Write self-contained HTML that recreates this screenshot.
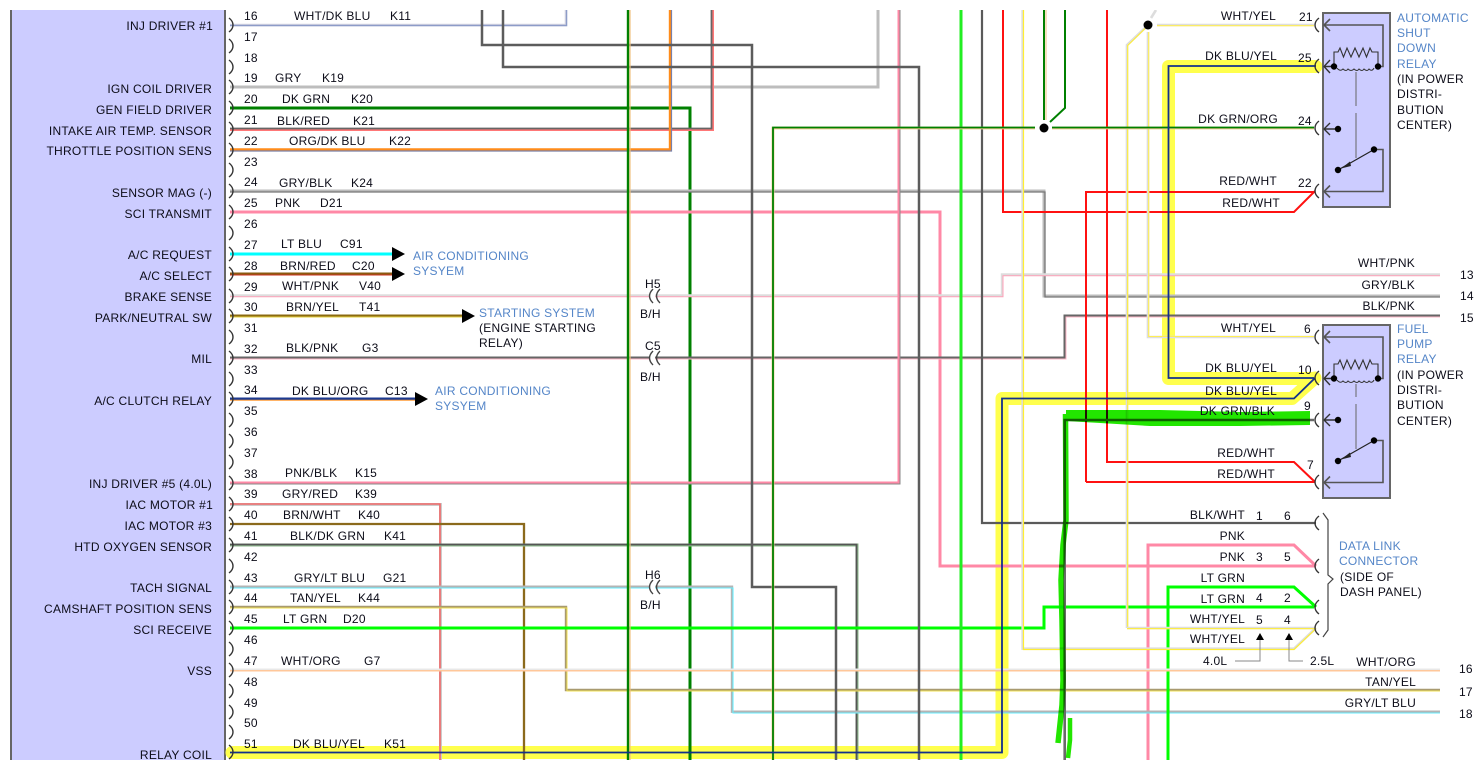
<!DOCTYPE html>
<html><head><meta charset="utf-8"><title>Wiring diagram</title>
<style>
html,body{margin:0;padding:0;background:#fff;width:1482px;height:768px;overflow:hidden}
svg{display:block}
text{font-family:"Liberation Sans",sans-serif;font-size:12px;letter-spacing:.25px;fill:#0c0c18}
.e{text-anchor:end}
.b text,text.b{fill:#5586c8}
.w path{fill:none;stroke-linejoin:miter}
</style></head><body>
<svg width="1482" height="768" viewBox="0 0 1482 768" xmlns="http://www.w3.org/2000/svg">
<defs>
<path id="p" d="M229 -7q4 3 4 7t-4 7" fill="none" stroke="#333" stroke-width="1.400"/>
<path id="q" d="M1319 -7q-4 3 -4 7t4 7" fill="none" stroke="#333" stroke-width="1.400"/>
<path id="cc" d="M653 -7Q646 0 653 7M660 -7Q653 0 660 7" fill="none" stroke="#444" stroke-width="1.400"/>
<g id="coil" fill="none">
<path d="M1330 19L1324 25 1330 31M1324 25H1383V66.500H1378" stroke="#555" stroke-width="1.600"/>
<path d="M1330 60L1324 66.500 1330 73M1324 66.500H1334" stroke="#333" stroke-width="1.400"/>
<path d="M1334 66V52H1338L1340 48 1343.500 57 1347 48 1351 57 1355 48 1359 57 1363 48 1366.500 57 1370 48 1372 52H1378V66" stroke="#333" stroke-width="1.100"/>
<path d="M1337 68q3 4 6 1q3 3 5 0q3 3 6 0q3 3 5 0q3 3 5 0q3 3 5 0q3 3 5 -1" stroke="#333" stroke-width="1"/>
<circle cx="1334" cy="66.500" r="3.200" fill="#000"/><circle cx="1378" cy="66.500" r="3.200" fill="#000"/>
</g>
<g id="sw" fill="none">
<path d="M1330 123L1324 129 1330 135M1324 129H1338" stroke="#333" stroke-width="1.400"/>
<path d="M1374 149.500H1383V191.500H1324M1330 185.500L1324 191.500 1330 197.500" stroke="#555" stroke-width="1.600"/>
<path d="M1338 170L1374 149.500" stroke="#222" stroke-width="1.200"/>
<circle cx="1338" cy="129" r="3.200" fill="#000"/><circle cx="1338" cy="170" r="3.200" fill="#000"/><circle cx="1374" cy="149.500" r="3.200" fill="#000"/>
<path d="M1341 168.500L1350 161.500 1351 166Z" fill="#222"/>
</g>
</defs>
<rect width="1482" height="768" fill="#fff"/>
<rect x="10" y="10" width="215" height="750" fill="#ccccff"/>
<path d="M11 10V760M225 10V760" stroke="#666" stroke-width="2"/>

<!-- yellow highlights -->
<g fill="none" stroke="#ffff4d" stroke-width="13" stroke-linejoin="round" stroke-linecap="round">
<path d="M232 752.500H1002V398.500H1292L1315 378"/>
<path d="M1316 66.500H1168.500V378.500H1314"/>
</g>

<!-- wires -->
<g class="w" stroke-width="3">
<path d="M230 25H566V10" stroke="#d8d8e4" stroke-width="2.600"/><path d="M230 25.500H566.500V10" stroke="#8d9cc8" stroke-width="1.400"/>
<path d="M230 87H878V10" stroke="#bdbdbd"/>
<path d="M230 108H690V760" stroke="#008000"/>
<path d="M230 129.500H712.500V10" stroke="#f77"/><path d="M230 128.500H711.500V10" stroke="#666" stroke-width="1.800"/>
<path d="M230 149.500H670V10" stroke="#ff8c1a" stroke-width="2.400"/><path d="M230 151H671.500V10" stroke="#7a80a8" stroke-width="1.200"/>
<path d="M230 191H1044V296H1440" stroke="#bbb"/><path d="M230 192H1045V297H1440" stroke="#777" stroke-width="1.300"/>
<path d="M230 212H940V566H1296L1316 566" stroke="#ff88a6"/>
<path d="M1148 760V545H1294L1316 566" stroke="#ff88a6"/>
<path d="M230 254H392" stroke="#00ffff"/>
<path d="M230 274H392" stroke="#8a5a10"/><path d="M230 275H392" stroke="#cc3322" stroke-width="1"/>
<path d="M230 295.500H1002V274.500H1440" stroke="#ddd" stroke-width="2.400"/><path d="M230 296.700H1003V275.700H1440" stroke="#ffa0b8" stroke-width="1"/>
<path d="M230 316H462" stroke="#8b6a10"/><path d="M230 317H462" stroke="#e5d040" stroke-width="1"/>
<path d="M230 358H1065V316H1440" stroke="#ffb8c8"/><path d="M230 357.500H1064.500V315.500H1440" stroke="#666" stroke-width="2"/>
<path d="M230 399H415" stroke="#1c3a90"/><path d="M230 400.300H415" stroke="#ff9a33" stroke-width="1"/>
<path d="M230 483H899V10" stroke="#ff88a6"/><path d="M230 484H900V10" stroke="#888" stroke-width="1"/>
<path d="M230 504.500H440.500V760" stroke="#ccc"/><path d="M230 504H440V760" stroke="#f06868" stroke-width="1.600"/>
<path d="M230 524H524V760" stroke="#8b6a1c" stroke-width="2.300"/>
<path d="M230 545H857V760" stroke="#8db98d"/><path d="M230 544.500H856.500V760" stroke="#555" stroke-width="1.800"/>
<path d="M230 586.700H732V711.700H1440" stroke="#b4b4b4" stroke-width="2.400"/><path d="M230 588H733V713H1440" stroke="#66eeff" stroke-width="1.100"/>
<path d="M230 607H566V690H1440" stroke="#a89a70" stroke-width="2.400"/><path d="M230 608H567V691H1440" stroke="#f0e050" stroke-width="1"/>
<path d="M230 628H1044V607H1314" stroke="#00ff00"/>
<path d="M1168 760V587H1294L1316 607" stroke="#00ff00"/>
<path d="M230 670H1440" stroke="#e8e8e8"/><path d="M230 670.700H1440" stroke="#ffc79a" stroke-width="1.500"/>
<path d="M482 10V45H752V587H836V760" stroke="#5c5c5c" stroke-width="2.500"/>
<path d="M503 10V67H919V760" stroke="#5c5c5c" stroke-width="2.500"/>
<path d="M628 10V760" stroke="#008000" stroke-width="2.400"/><path d="M630 10V760" stroke="#f0c080" stroke-width="1.200"/>
<path d="M961 10V760" stroke="#22ee22"/>
<path d="M982 10V523H1316" stroke="#5a5a5a" stroke-width="2.200"/>
<path d="M1003 10V212H1294L1315 191" stroke="#f11" stroke-width="2"/>
<path d="M1107 10V462H1294L1315 482" stroke="#f11" stroke-width="2"/>
<path d="M1086 482H1315M1086 482V192H1315" stroke="#f11" stroke-width="2"/>
<path d="M1022.700 10V648.700H1294L1316 628" stroke="#ddd" stroke-width="2.600"/><path d="M1023.500 10V649.500H1294L1316 628.500" stroke="#ffee33" stroke-width="1.200"/>
<path d="M1127 628V45L1145 28" stroke="#ddd" stroke-width="2.600"/><path d="M1127.700 628V45.500L1145 28.500" stroke="#ffee33" stroke-width="1.100"/>
<path d="M1127 628H1316" stroke="#ddd" stroke-width="2.600"/><path d="M1127 628.700H1316" stroke="#ffee33" stroke-width="1.100"/>
<path d="M1148 32V337H1314M1157 25H1314" stroke="#ddd" stroke-width="2.600"/><path d="M1148.700 32V336.500H1314M1157 25.700H1314" stroke="#ffee55" stroke-width="1.100"/>
<path d="M1151 18L1156 10" stroke="#ddd" stroke-width="2.600"/>
<path d="M773 760V128H1035M1052 128H1314" stroke="#f2c98c" stroke-width="2.800"/><path d="M773 760V127.500H1035M1052 127.500H1314" stroke="#008000" stroke-width="1.800"/>
<path d="M1044 10V120" stroke="#008000" stroke-width="2"/><path d="M1046 10V120" stroke="#f0c080" stroke-width="1"/>
<path d="M1065 10V108L1050 122" stroke="#008000" stroke-width="2"/>
</g>
<!-- dk blu / yel lines -->
<g fill="none" stroke="#12308c" stroke-width="1.800">
<path d="M230 752.500H1002V398.500H1294L1315 378"/>
<path d="M1316 66H1168.500V378H1314"/>
</g>
<!-- dk grn/blk wire -->
<path d="M1064.700 760V420H1314" fill="none" stroke="#6a6a6a" stroke-width="2.600"/>
<!-- green hand highlight -->
<g style="mix-blend-mode:multiply">
<path d="M1066 410L1160 410 1240 412 1310 411V425L1240 426 1150 426 1100 423 1066 421Z" fill="#22e600"/>
<path d="M1065.500 414L1066 520 1063 545 1061 580 1062 620 1063 680 1062 705 1058 743" fill="none" stroke="#22e600" stroke-width="5.500"/>
<path d="M1070 718L1070 740 1068 758" fill="none" stroke="#22e600" stroke-width="4.500"/>
</g>

<!-- junction dots -->
<circle cx="1044" cy="128" r="4.500" fill="#000"/><circle cx="1148" cy="25" r="4.500" fill="#000"/>
<circle cx="1044" cy="128" r="8" fill="none" stroke="#fff" stroke-width="0"/>
<!-- arrows -->
<path d="M392 247L405 254 392 261ZM392 267L405 274 392 281ZM462 309L475 316 462 323ZM415 392L428 399 415 406Z" fill="#000"/>
<path d="M1260 633L1264 640H1256ZM1289 633L1293 640H1285Z" fill="#000"/>
<path d="M1235 661H1260V640M1289 640V661H1303" fill="none" stroke="#888" stroke-width="1"/>

<!-- pins left -->
<use href="#p" y="25"/><use href="#p" y="46"/><use href="#p" y="67"/><use href="#p" y="87"/><use href="#p" y="108"/><use href="#p" y="129"/><use href="#p" y="150"/><use href="#p" y="170"/><use href="#p" y="191"/><use href="#p" y="212"/><use href="#p" y="233"/><use href="#p" y="254"/><use href="#p" y="274"/><use href="#p" y="296"/><use href="#p" y="316"/><use href="#p" y="337"/><use href="#p" y="358"/><use href="#p" y="379"/><use href="#p" y="399"/><use href="#p" y="420"/><use href="#p" y="441"/><use href="#p" y="462"/><use href="#p" y="483"/><use href="#p" y="504"/><use href="#p" y="524"/><use href="#p" y="545"/><use href="#p" y="566"/><use href="#p" y="587"/><use href="#p" y="607"/><use href="#p" y="628"/><use href="#p" y="649"/><use href="#p" y="670"/><use href="#p" y="691"/><use href="#p" y="712"/><use href="#p" y="732"/><use href="#p" y="752"/>
<!-- pins right -->
<use href="#q" y="25"/><use href="#q" y="66"/><use href="#q" y="128"/><use href="#q" y="191"/><use href="#q" y="337"/><use href="#q" y="378"/><use href="#q" y="420"/><use href="#q" y="482"/><use href="#q" y="523"/><use href="#q" y="566"/><use href="#q" y="607"/><use href="#q" y="628"/>
<!-- inline connectors -->
<rect x="650" y="293" width="5" height="6" fill="#fff"/>
<rect x="650" y="355" width="5" height="6" fill="#fff"/>
<rect x="650" y="584" width="5" height="6" fill="#fff"/>
<use href="#cc" y="296"/><use href="#cc" y="358"/><use href="#cc" y="587"/>

<!-- relays -->
<rect x="1323" y="13" width="67" height="194" fill="#ccccff" stroke="#666" stroke-width="2"/>
<rect x="1323" y="325" width="67" height="173" fill="#ccccff" stroke="#666" stroke-width="2"/>
<use href="#coil"/><use href="#sw"/>
<use href="#coil" y="312"/><use href="#sw" y="291"/>
<path d="M1356 72V106M1356 113V158M1356 384V397M1356 404V449" stroke="#666" stroke-width="1" fill="none"/>
<!-- brace -->
<path d="M1323 513L1328 520V575L1333 579 1328 584V630L1323 637" fill="none" stroke="#444" stroke-width="1.200"/>

<!-- left labels -->
<text class="e" x="213" y="30">INJ DRIVER #1</text>
<text class="e" x="212" y="93">IGN COIL DRIVER</text>
<text class="e" x="212" y="114">GEN FIELD DRIVER</text>
<text class="e" x="212" y="135">INTAKE AIR TEMP. SENSOR</text>
<text class="e" x="212" y="155">THROTTLE POSITION SENS</text>
<text class="e" x="212" y="197">SENSOR MAG (-)</text>
<text class="e" x="212" y="218">SCI TRANSMIT</text>
<text class="e" x="212" y="259">A/C REQUEST</text>
<text class="e" x="212" y="280">A/C SELECT</text>
<text class="e" x="212" y="301">BRAKE SENSE</text>
<text class="e" x="212" y="322">PARK/NEUTRAL SW</text>
<text class="e" x="212" y="363">MIL</text>
<text class="e" x="212" y="405">A/C CLUTCH RELAY</text>
<text class="e" x="212" y="488">INJ DRIVER #5 (4.0L)</text>
<text class="e" x="213" y="509">IAC MOTOR #1</text>
<text class="e" x="212" y="530">IAC MOTOR #3</text>
<text class="e" x="212" y="551">HTD OXYGEN SENSOR</text>
<text class="e" x="212" y="592">TACH SIGNAL</text>
<text class="e" x="212" y="613">CAMSHAFT POSITION SENS</text>
<text class="e" x="212" y="634">SCI RECEIVE</text>
<text class="e" x="212" y="675">VSS</text>
<text class="e" x="212" y="759">RELAY COIL</text>
<!-- pin numbers -->
<text x="244" y="20">16</text><text x="244" y="41">17</text><text x="244" y="62">18</text><text x="244" y="82">19</text><text x="244" y="103">20</text><text x="244" y="124">21</text><text x="244" y="145">22</text><text x="244" y="166">23</text><text x="244" y="186">24</text><text x="244" y="207">25</text><text x="244" y="228">26</text><text x="244" y="249">27</text><text x="244" y="270">28</text><text x="244" y="291">29</text><text x="244" y="311">30</text><text x="244" y="332">31</text><text x="244" y="353">32</text><text x="244" y="374">33</text><text x="244" y="394">34</text><text x="244" y="415">35</text><text x="244" y="436">36</text><text x="244" y="457">37</text><text x="244" y="478">38</text><text x="244" y="498">39</text><text x="244" y="519">40</text><text x="244" y="540">41</text><text x="244" y="561">42</text><text x="244" y="582">43</text><text x="244" y="602">44</text><text x="244" y="623">45</text><text x="244" y="644">46</text><text x="244" y="665">47</text><text x="244" y="686">48</text><text x="244" y="707">49</text><text x="244" y="727">50</text><text x="244" y="748">51</text>
<!-- wire names -->
<text x="294" y="20">WHT/DK BLU</text><text x="390" y="20">K11</text>
<text x="275" y="82">GRY</text><text x="322" y="82">K19</text>
<text x="282" y="103">DK GRN</text><text x="351" y="103">K20</text>
<text x="277" y="125">BLK/RED</text><text x="353" y="125">K21</text>
<text x="289" y="145">ORG/DK BLU</text><text x="389" y="145">K22</text>
<text x="279" y="187">GRY/BLK</text><text x="351" y="187">K24</text>
<text x="275" y="207">PNK</text><text x="320" y="207">D21</text>
<text x="281" y="248">LT BLU</text><text x="340" y="248">C91</text>
<text x="280" y="270">BRN/RED</text><text x="352" y="270">C20</text>
<text x="282" y="290">WHT/PNK</text><text x="359" y="290">V40</text>
<text x="286" y="311">BRN/YEL</text><text x="359" y="311">T41</text>
<text x="286" y="352">BLK/PNK</text><text x="362" y="352">G3</text>
<text x="292" y="395">DK BLU/ORG</text><text x="385" y="395">C13</text>
<text x="285" y="477">PNK/BLK</text><text x="355" y="477">K15</text>
<text x="282" y="498">GRY/RED</text><text x="355" y="498">K39</text>
<text x="283" y="519">BRN/WHT</text><text x="358" y="519">K40</text>
<text x="290" y="540">BLK/DK GRN</text><text x="384" y="540">K41</text>
<text x="294" y="582">GRY/LT BLU</text><text x="383" y="582">G21</text>
<text x="290" y="602">TAN/YEL</text><text x="358" y="602">K44</text>
<text x="283" y="623">LT GRN</text><text x="343" y="623">D20</text>
<text x="281" y="665">WHT/ORG</text><text x="364" y="665">G7</text>
<text x="293" y="748">DK BLU/YEL</text><text x="384" y="748">K51</text>
<!-- blue labels -->
<g class="b">
<text x="413" y="260">AIR CONDITIONING</text><text x="413" y="275">SYSYEM</text>
<text x="479" y="317">STARTING SYSTEM</text>
<text x="435" y="395">AIR CONDITIONING</text><text x="435" y="410">SYSYEM</text>
<text x="1397" y="22">AUTOMATIC</text><text x="1397" y="37">SHUT</text><text x="1397" y="52">DOWN</text><text x="1397" y="68">RELAY</text>
<text x="1397" y="333">FUEL</text><text x="1397" y="348">PUMP</text><text x="1397" y="363">RELAY</text>
<text x="1339" y="550">DATA LINK</text><text x="1339" y="565">CONNECTOR</text>
</g>
<text x="479" y="332">(ENGINE STARTING</text><text x="479" y="347">RELAY)</text>
<text x="645" y="288">H5</text><text x="640" y="318">B/H</text>
<text x="645" y="350">C5</text><text x="640" y="381">B/H</text>
<text x="645" y="579">H6</text><text x="640" y="609">B/H</text>
<text x="1397" y="83">(IN POWER</text><text x="1397" y="98">DISTRI-</text><text x="1397" y="114">BUTION</text><text x="1397" y="129">CENTER)</text>
<text x="1397" y="379">(IN POWER</text><text x="1397" y="394">DISTRI-</text><text x="1397" y="409">BUTION</text><text x="1397" y="425">CENTER)</text>
<text x="1340" y="581">(SIDE OF</text><text x="1340" y="596">DASH PANEL)</text>
<!-- right labels -->
<text class="e" x="1276" y="20">WHT/YEL</text><text x="1299" y="21">21</text>
<text class="e" x="1277" y="60">DK BLU/YEL</text><text x="1298" y="62">25</text>
<text class="e" x="1278" y="123">DK GRN/ORG</text><text x="1298" y="125">24</text>
<text class="e" x="1277" y="185">RED/WHT</text><text x="1298" y="187">22</text>
<text class="e" x="1280" y="207">RED/WHT</text>
<text class="e" x="1415" y="267">WHT/PNK</text><text x="1460" y="279">13</text>
<text class="e" x="1415" y="289">GRY/BLK</text><text x="1460" y="300">14</text>
<text class="e" x="1415" y="310">BLK/PNK</text><text x="1460" y="322">15</text>
<text class="e" x="1276" y="332">WHT/YEL</text><text x="1304" y="333">6</text>
<text class="e" x="1277" y="372">DK BLU/YEL</text><text x="1298" y="374">10</text>
<text class="e" x="1277" y="395">DK BLU/YEL</text>
<text class="e" x="1275" y="415">DK GRN/BLK</text><text x="1304" y="410">9</text>
<text class="e" x="1275" y="457">RED/WHT</text><text x="1307" y="469">7</text>
<text class="e" x="1275" y="478">RED/WHT</text>
<text class="e" x="1245" y="519">BLK/WHT</text><text x="1256" y="520">1</text><text x="1284" y="520">6</text>
<text class="e" x="1245" y="540">PNK</text>
<text class="e" x="1245" y="561">PNK</text><text x="1256" y="561">3</text><text x="1284" y="561">5</text>
<text class="e" x="1245" y="582">LT GRN</text>
<text class="e" x="1245" y="603">LT GRN</text><text x="1256" y="602">4</text><text x="1284" y="602">2</text>
<text class="e" x="1245" y="623">WHT/YEL</text><text x="1256" y="624">5</text><text x="1284" y="624">4</text>
<text class="e" x="1245" y="643">WHT/YEL</text>
<text x="1203" y="665">4.0L</text><text x="1310" y="665">2.5L</text>
<text class="e" x="1416" y="666">WHT/ORG</text><text x="1459" y="673">16</text>
<text class="e" x="1416" y="686">TAN/YEL</text><text x="1459" y="696">17</text>
<text class="e" x="1416" y="707">GRY/LT BLU</text><text x="1459" y="718">18</text>

<!-- crop bands -->
<rect x="0" y="0" width="1482" height="10" fill="#fff"/>
<rect x="0" y="760" width="1482" height="8" fill="#fff"/>
</svg>
</body></html>
